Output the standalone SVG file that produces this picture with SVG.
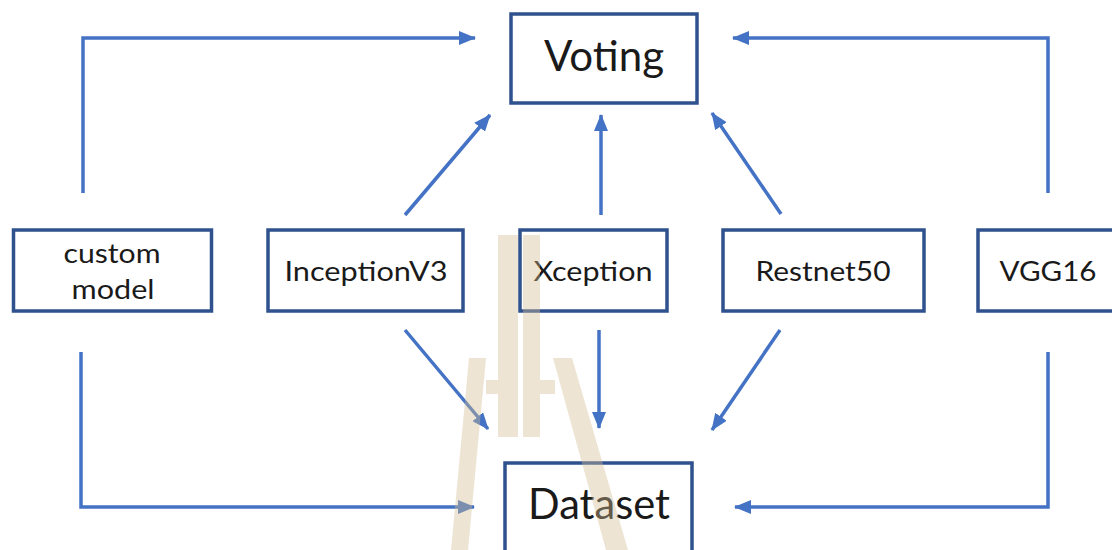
<svg xmlns="http://www.w3.org/2000/svg" width="1112" height="550" viewBox="0 0 1112 550">
  <style>
    .box { fill: #ffffff; stroke: #2F528F; stroke-width: 3.5; }
    .lbl { font-family: Lato, "Open Sans", "DejaVu Sans", sans-serif; fill: #1a1a1a; text-anchor: middle; }
    .small { font-size: 27px; }
    .big { font-size: 42px; }
    .con { fill: none; stroke: #4472C4; stroke-width: 3.5; marker-end: url(#ah); }
    .wm { fill: #D2BB91; opacity: 0.4; }
  </style>
  <defs>
    <marker id="ah" markerUnits="userSpaceOnUse" markerWidth="17" markerHeight="14" viewBox="0 0 17 14" refX="16" refY="7" orient="auto">
      <path d="M0,0 L17,7 L0,14 Z" fill="#4472C4"/>
    </marker>
  </defs>
  <rect width="1112" height="550" fill="#ffffff"/>

  <g id="connectors">
    <path class="con" d="M83,193 V38 H475"/>
    <path class="con" d="M405,215 L490,115"/>
    <path class="con" d="M601,215 V115"/>
    <path class="con" d="M781,214 L712,113"/>
    <path class="con" d="M1048,193 V38 H733"/>
    <path class="con" d="M81,352 V507 H474"/>
    <path class="con" d="M405,330 L488,429"/>
    <path class="con" d="M599,330 V428"/>
    <path class="con" d="M780,330 L712,430"/>
    <path class="con" d="M1048,352 V507 H735"/>
  </g>

  <g id="voting">
    <rect class="box" x="511" y="14" width="186" height="89"/>
    <text class="lbl big" x="604" y="71" textLength="120" lengthAdjust="spacingAndGlyphs">Voting</text>
  </g>
  <g id="custom-model">
    <rect class="box" x="13.5" y="230" width="198" height="81"/>
    <text class="lbl small" x="112" y="263" textLength="97" lengthAdjust="spacingAndGlyphs">custom</text>
    <text class="lbl small" x="113" y="299" textLength="83" lengthAdjust="spacingAndGlyphs">model</text>
  </g>
  <g id="inceptionv3">
    <rect class="box" x="268" y="230" width="195" height="81"/>
    <text class="lbl small" x="366" y="281" textLength="163" lengthAdjust="spacingAndGlyphs">InceptionV3</text>
  </g>
  <g id="xception">
    <rect class="box" x="520" y="230" width="147" height="81"/>
    <text class="lbl small" x="593" y="281" textLength="119" lengthAdjust="spacingAndGlyphs">Xception</text>
  </g>
  <g id="restnet50">
    <rect class="box" x="723" y="230" width="201" height="81"/>
    <text class="lbl small" x="823" y="281" textLength="135" lengthAdjust="spacingAndGlyphs">Restnet50</text>
  </g>
  <g id="vgg16">
    <rect class="box" x="978" y="230" width="145" height="81"/>
    <text class="lbl small" x="1048" y="281" textLength="97" lengthAdjust="spacingAndGlyphs">VGG16</text>
  </g>
  <g id="dataset">
    <rect class="box" x="505" y="463" width="187" height="100"/>
    <text class="lbl big" x="599" y="519" textLength="142" lengthAdjust="spacingAndGlyphs">Dataset</text>
  </g>

  <g id="watermark">
    <polygon class="wm" points="498,235 518,235 518,437 498,437"/>
    <polygon class="wm" points="523,235 540,235 540,437 523,437"/>
    <polygon class="wm" points="469,358 486,358 468,550 451,550"/>
    <polygon class="wm" points="553,358 572,358 628,550 606,550"/>
    <rect class="wm" x="486" y="380" width="12" height="14"/>
    <rect class="wm" x="540" y="380" width="15" height="14"/>
  </g>
</svg>
